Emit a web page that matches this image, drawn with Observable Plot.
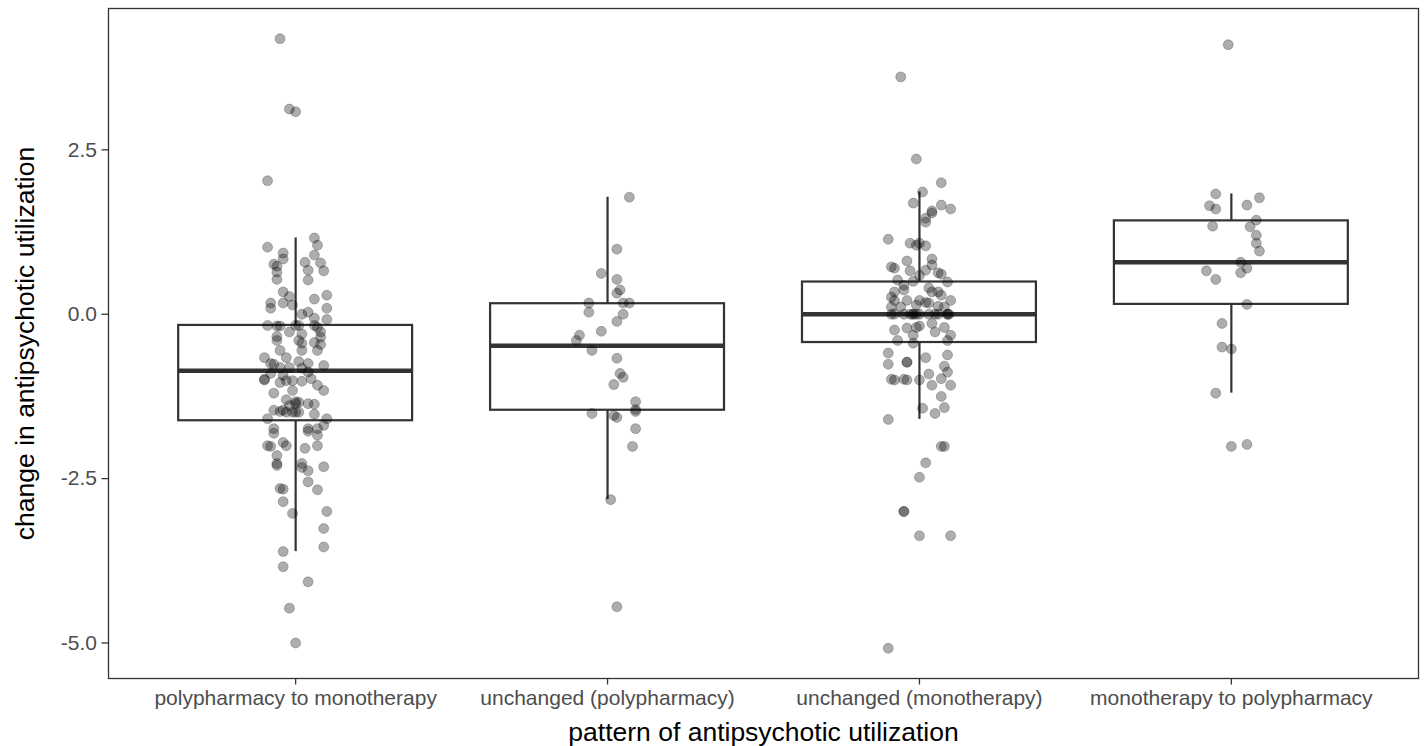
<!DOCTYPE html>
<html>
<head>
<meta charset="utf-8">
<script src="https://cdn.jsdelivr.net/npm/d3@7"></script>
<script src="https://cdn.jsdelivr.net/npm/@observablehq/plot@0.6"></script>
<style>
  html, body { margin: 0; padding: 0; background: #ffffff; }
  #chart svg { display: block; }
</style>
</head>
<body>
<div id="chart"></div>
<script>
// Patterns of antipsychotic utilization (x categories, left to right)
const categories = [
  "polypharmacy to monotherapy",
  "unchanged (polypharmacy)",
  "unchanged (monotherapy)",
  "monotherapy to polypharmacy"
];

// Boxplot summaries per pattern
const q1 = [-1.62, -1.46, -0.43, 0.15];
const median = [-0.86, -0.48, 0.00, 0.79];
const q3 = [-0.17, 0.16, 0.49, 1.42];
const whiskerLo = [-3.61, -2.82, -1.60, -1.20];
const whiskerHi = [1.16, 1.78, 1.86, 1.83];

// Individual observations: [horizontal jitter, change in utilization]
const polyToMono = [
  [-0.05,4.19],[-0.02,3.12],[0.00,3.08],[-0.09,2.03],[-0.09,1.02],[-0.04,0.93],[-0.04,0.84],[-0.07,0.76],
  [-0.06,0.73],[-0.06,0.64],[-0.06,0.53],[0.06,1.16],[0.07,1.05],[0.06,0.90],[0.08,0.78],[0.03,0.79],
  [0.04,0.67],[0.09,0.66],[0.04,0.52],[-0.04,0.34],[-0.02,0.27],[-0.04,0.17],[-0.08,0.17],[-0.08,0.09],
  [-0.01,0.14],[0.06,0.23],[0.10,0.29],[0.10,0.09],[0.02,0.00],[0.04,0.03],[0.06,-0.06],[0.10,-0.08],
  [-0.09,-0.17],[-0.06,-0.18],[-0.05,-0.18],[0.00,-0.17],[0.01,-0.17],[0.06,-0.17],[0.07,-0.20],[-0.06,-0.34],
  [-0.02,-0.27],[0.02,-0.30],[0.08,-0.27],[0.08,-0.35],[-0.06,-0.40],[0.01,-0.40],[0.02,-0.44],[0.06,-0.43],
  [0.08,-0.46],[0.02,-0.55],[0.07,-0.55],[-0.05,-0.55],[-0.10,-0.66],[-0.03,-0.66],[0.01,-0.72],[0.04,-0.75],
  [0.09,-0.78],[-0.08,-0.75],[-0.07,-0.76],[-0.05,-0.81],[-0.02,-0.81],[0.02,-0.82],[-0.08,-0.90],[0.04,-0.88],
  [-0.04,-0.93],[-0.10,-0.99],[-0.10,-1.00],[-0.05,-1.04],[-0.03,-1.01],[-0.01,-1.01],[0.02,-1.02],[0.05,-0.98],
  [0.07,-1.08],[0.09,-1.16],[-0.01,-1.16],[-0.07,-1.20],[-0.03,-1.30],[0.00,-1.33],[0.00,-1.36],[0.01,-1.34],
  [-0.02,-1.39],[0.04,-1.36],[0.06,-1.37],[-0.07,-1.46],[-0.05,-1.48],[-0.04,-1.46],[-0.03,-1.49],[-0.01,-1.49],
  [0.00,-1.49],[0.01,-1.49],[-0.09,-1.59],[0.06,-1.52],[0.10,-1.59],[0.09,-1.69],[-0.07,-1.74],[-0.07,-1.81],
  [0.04,-1.74],[0.04,-1.78],[0.07,-1.74],[0.07,-1.84],[-0.09,-2.00],[-0.08,-2.01],[-0.04,-1.95],[-0.03,-2.00],
  [0.03,-2.04],[0.07,-2.00],[-0.06,-2.15],[-0.06,-2.27],[-0.06,-2.30],[0.02,-2.27],[0.02,-2.33],[0.04,-2.38],
  [0.09,-2.32],[0.04,-2.55],[0.07,-2.67],[-0.05,-2.65],[-0.04,-2.66],[-0.04,-2.85],[-0.01,-3.03],[0.10,-3.00],
  [0.09,-3.26],[0.09,-3.54],[-0.04,-3.61],[-0.04,-3.84],[0.04,-4.07],[-0.02,-4.47],[0.00,-5.00]
];
const unchangedPoly = [
  [0.07,1.78],[0.03,0.99],[-0.02,0.62],[0.03,0.53],[0.04,0.37],[0.03,0.32],[-0.06,0.17],[-0.06,0.03],
  [0.05,0.17],[0.07,0.17],[0.05,0.00],[0.03,-0.11],[-0.02,-0.26],[-0.09,-0.32],[-0.10,-0.40],[-0.05,-0.55],
  [0.03,-0.67],[0.04,-0.90],[0.05,-0.96],[0.02,-1.07],[0.09,-1.33],[0.09,-1.45],[0.09,-1.48],[-0.05,-1.51],
  [0.02,-1.54],[0.03,-1.57],[0.09,-1.74],[0.08,-2.01],[0.01,-2.82],[0.03,-4.45]
];
const unchangedMono = [
  [-0.06,3.61],[-0.01,2.36],[0.07,2.00],[0.01,1.86],[-0.02,1.69],[0.07,1.66],[0.10,1.60],[0.04,1.57],
  [0.04,1.54],[0.02,1.46],[0.02,1.40],[-0.10,1.14],[-0.03,1.08],[-0.01,1.05],[0.00,1.08],[0.02,1.04],
  [-0.09,0.72],[-0.08,0.70],[-0.04,0.81],[-0.03,0.66],[0.04,0.84],[0.04,0.75],[0.06,0.63],[0.07,0.61],
  [0.02,0.67],[0.00,0.59],[0.09,0.49],[-0.07,0.52],[-0.05,0.44],[-0.05,0.37],[-0.02,0.50],[-0.08,0.34],
  [-0.09,0.26],[-0.08,0.21],[-0.04,0.21],[0.03,0.40],[0.04,0.34],[0.06,0.34],[0.07,0.29],[0.00,0.21],
  [0.02,0.18],[0.10,0.21],[-0.01,0.14],[0.03,0.17],[-0.09,0.11],[-0.06,0.11],[0.06,0.12],[0.08,0.11],
  [-0.09,0.00],[-0.08,0.00],[-0.05,0.00],[-0.03,0.00],[-0.02,0.00],[-0.02,0.00],[-0.01,0.00],[0.00,0.00],
  [0.03,0.00],[0.05,0.00],[0.06,0.00],[0.09,0.00],[0.09,0.00],[0.095,0.00],
  [-0.04,-0.21],[-0.01,-0.20],[0.00,-0.18],[0.04,-0.14],[0.05,-0.27],[0.08,-0.20],[-0.08,-0.24],[-0.07,-0.40],
  [-0.02,-0.32],[-0.02,-0.44],[0.10,-0.32],[0.09,-0.40],[-0.10,-0.59],[-0.10,-0.76],[-0.04,-0.73],[-0.04,-0.73],
  [0.02,-0.66],[0.09,-0.62],[0.08,-0.79],[0.09,-0.88],[-0.09,-0.99],[-0.08,-1.00],[-0.05,-0.99],[-0.04,-1.00],
  [0.00,-1.00],[0.03,-0.91],[0.07,-0.98],[0.04,-1.08],[0.10,-1.08],[0.07,-1.25],[0.01,-1.43],[0.05,-1.51],
  [0.08,-1.42],[-0.10,-1.60],[0.07,-2.01],[0.08,-2.01],[0.02,-2.26],[0.00,-2.48],[-0.05,-3.00],[-0.05,-3.00],
  [0.00,-3.37],[0.10,-3.37],[-0.10,-5.08]
];
const monoToPoly = [
  [-0.01,4.10],[-0.05,1.83],[0.09,1.77],[-0.07,1.65],[-0.05,1.60],[0.05,1.66],[0.08,1.43],[-0.06,1.34],
  [0.06,1.33],[0.08,1.20],[0.08,1.08],[0.09,0.96],[0.03,0.79],[0.05,0.70],[0.03,0.63],[-0.08,0.66],
  [-0.05,0.53],[0.05,0.15],[-0.03,-0.14],[-0.03,-0.50],[0.00,-0.53],[-0.05,-1.20],[0.00,-2.01],[0.05,-1.98]
];

const yTicks = [-5, -2.5, 0, 2.5];

// Tables for the marks
const groups = [polyToMono, unchangedPoly, unchangedMono, monoToPoly];
const points = groups.flatMap((obs, i) =>
  obs.map(([jitter, change]) => ({pos: i + 1 + jitter, change}))
);
const boxes = categories.map((name, i) => ({
  pos: i + 1, q1: q1[i], median: median[i], q3: q3[i], lo: whiskerLo[i], hi: whiskerHi[i]
}));
const halfBox = 0.375;
const ink = "#333333";
const textInk = "#4d4d4d";

const chart = Plot.plot({
  width: 1425,
  height: 746,
  marginLeft: 108,
  marginRight: 7,
  marginTop: 8,
  marginBottom: 68,
  style: {fontFamily: "'Liberation Sans', Arial, Helvetica, sans-serif", background: "#ffffff", overflow: "visible"},
  x: {type: "linear", domain: [0.4, 4.6]},
  y: {domain: [-5.54, 4.65]},
  marks: [
    // whiskers
    Plot.ruleX(boxes, {x: "pos", y1: "q3", y2: "hi", stroke: ink, strokeWidth: 2.2}),
    Plot.ruleX(boxes, {x: "pos", y1: "lo", y2: "q1", stroke: ink, strokeWidth: 2.2}),
    // boxes
    Plot.rect(boxes, {
      x1: d => d.pos - halfBox, x2: d => d.pos + halfBox, y1: "q1", y2: "q3",
      fill: "#ffffff", stroke: ink, strokeWidth: 2.2
    }),
    // medians
    Plot.ruleY(boxes, {
      y: "median", x1: d => d.pos - halfBox, x2: d => d.pos + halfBox,
      stroke: ink, strokeWidth: 4.6
    }),
    // observations
    Plot.dot(points, {
      x: "pos", y: "change", r: 5,
      fill: "#000000", fillOpacity: 0.32,
      stroke: "#000000", strokeOpacity: 0.22, strokeWidth: 1
    }),
    Plot.frame({stroke: ink, strokeWidth: 1.3}),
    Plot.axisY({
      ticks: yTicks, tickFormat: d => d.toFixed(1), tickSize: 6.5, tickPadding: 5,
      fontSize: 21, fill: textInk, stroke: ink, strokeWidth: 1.3, label: null
    }),
    Plot.axisX({
      ticks: [1, 2, 3, 4], tickFormat: d => categories[d - 1], tickSize: 6.5, tickPadding: 5,
      fontSize: 21, fill: textInk, stroke: ink, strokeWidth: 1.3, label: null
    }),
    Plot.text(["change in antipsychotic utilization"], {
      frameAnchor: "left", text: d => d, rotate: -90, dx: -83,
      textAnchor: "middle", lineAnchor: "middle", fontSize: 26.5, fill: "#000000"
    }),
    Plot.text(["pattern of antipsychotic utilization"], {
      frameAnchor: "bottom", text: d => d, dy: 54,
      textAnchor: "middle", lineAnchor: "middle", fontSize: 26.5, fill: "#000000"
    })
  ]
});

document.getElementById("chart").append(chart);
</script>
</body>
</html>
